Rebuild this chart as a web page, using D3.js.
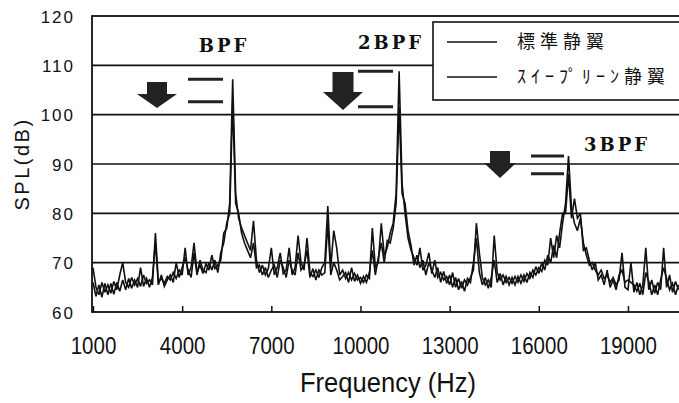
<!DOCTYPE html>
<html>
<head>
<meta charset="utf-8">
<script src="https://cdn.jsdelivr.net/npm/d3@7"></script>
<style>
  html, body { margin: 0; padding: 0; background: #fff; }
  svg { display: block; }
</style>
</head>
<body>
<svg id="chart" width="679" height="403"></svg>
<script>
// ---------------- DATA ----------------
// frequency grid (Hz), one reading every 100 Hz from 1000 to 20700
const freqStart = 1000, freqStep = 100;

// SPL (dB) of the standard stator (標準静翼)
const splStandard = [
  69, 65, 63.5, 66, 64, 65.5, 63.8, 66.2, 64.5, 67.5,        // 1000-1900
  70, 66, 65, 67, 65.5, 66.8, 65.2, 67.5, 65.8, 66.5,        // 2000-2900
  65.5, 76, 66, 66.8, 65.8, 67.2, 66.5, 68, 66.8, 68.5,      // 3000-3900
  67.5, 73, 67.5, 69, 74, 68, 69.5, 67.8, 69.8, 68.5,        // 4000-4900
  71.5, 68.8, 69.5, 70.5, 76, 77, 82, 107.2, 84, 79,         // 5000-5900
  77, 75.5, 74, 72.5, 78.5, 70.5, 68, 69.5, 67.5, 68.8,      // 6000-6900
  73, 67.5, 69, 72, 67.8, 68.5, 73, 67.5, 69, 75.5,          // 7000-7900
  70, 68.5, 75, 68, 67.2, 68.5, 67, 69, 70, 81.5,            // 8000-8900
  69, 76.5, 73, 67.5, 68.5, 66.8, 68, 66.5, 67.8, 66.5,      // 9000-9900
  67, 66, 67.5, 66.8, 77, 69, 70, 78, 71.5, 73,              // 10000-10900
  76, 78, 84, 108.8, 86, 80, 75, 72.5, 71, 69.5,             // 11000-11900
  73, 68.5, 69.5, 72, 67.8, 70.5, 67, 68, 66.5, 67.2,        // 12000-12900
  65.5, 68, 65, 66.8, 64.8, 66.5, 65.5, 67, 68.5, 78,        // 13000-13900
  72, 67, 65.5, 66.5, 65, 75.5, 68, 66.5, 67.5, 66,          // 14000-14900
  67, 65.8, 67.2, 66, 67.5, 66.2, 67.8, 66.8, 68.5, 67.5,    // 15000-15900
  69, 68.2, 70.5, 69.5, 75, 71, 75.5, 73, 78, 82,            // 16000-16900
  91.6, 81, 78, 76.5, 79, 74, 71.5, 69.5, 70, 68.5,          // 17000-17900
  67.5, 68.5, 66.8, 67.5, 66, 67, 65.5, 66.5, 72, 65,        // 18000-18900
  64.5, 70, 64, 66, 63.5, 65.5, 73, 64.5, 66.5, 63.8,        // 19000-19900
  66, 64.5, 73, 65, 67.5, 64, 66.2, 64.5                     // 20000-20700
];

// SPL (dB) of the sweep-lean stator (ｽｲｰﾌﾟﾘｰﾝ静翼)
const splSweepLean = [
  66, 63.2, 65.5, 63, 65.8, 63.5, 65.8, 63.6, 66, 64.2,
  66.5, 64.5, 66.8, 64.8, 66.5, 65, 69, 65.2, 66.8, 65,
  67, 74, 65.5, 67.5, 65.2, 66.5, 67.5, 66, 70, 67,
  69, 71, 68.5, 67, 72, 67.5, 70.5, 68.5, 68, 70,
  68.5, 70.5, 68, 72, 74, 78, 80, 102.6, 82, 80,
  76, 74, 72.5, 71, 74, 69, 69.5, 67.5, 69, 67,
  68.5, 69.5, 67, 70.5, 69, 67, 70.5, 68.5, 67.5, 72,
  68.5, 69.5, 72.5, 67, 68.8, 66.5, 68.5, 67.5, 68, 78,
  67.5, 70, 68.5, 66.5, 67.2, 68, 66, 69, 66.2, 67.5,
  65.8, 67.2, 66, 68, 72.5, 67.5, 71, 74, 70, 74.5,
  74, 77, 82, 101.6, 84, 82, 76.5, 73.5, 69.5, 71.5,
  69, 70.5, 67.5, 70, 68.5, 67, 69, 66, 68.2, 65.8,
  67.5, 65, 67, 64.5, 66.2, 64.2, 66.8, 66, 70, 75,
  68, 65.5, 67, 64.8, 67, 70.5, 66, 67.8, 65.5, 67.2,
  65.5, 67, 65.5, 67.2, 65.8, 67.5, 66, 68, 67, 69.2,
  67.8, 70, 68.5, 71.5, 70, 73.5, 71, 76, 80, 80,
  88, 79, 83, 79, 80, 72.5, 73, 70.5, 68.5, 70,
  66.5, 67.5, 65.5, 68.5, 65, 66.5, 64.5, 67.5, 68.5, 66,
  66.5, 66, 65.5, 64.2, 65.8, 63.5, 68, 66.2, 63.5, 65.5,
  63.5, 66.5, 69, 66.8, 64.5, 65.8, 63.5, 65.5
];

const seriesNames = ["標準静翼", "ｽｲｰﾌﾟﾘｰﾝ静翼"];
const xTicks = [1000, 4000, 7000, 10000, 13000, 16000, 19000];
const yTicks = [60, 70, 80, 90, 100, 110, 120];
const harmonicLabels = ["BPF", "2BPF", "3BPF"];
const harmonicFreqs = [5700, 11300, 17000];

// ---------------- LAYOUT ----------------
const svg = d3.select("#chart");
const plot = { left: 92, top: 16, bottom: 312 };
const x = d3.scaleLinear().domain([1000, 21000]).range([93, 687.4]);
const y = d3.scaleLinear().domain([60, 120]).range([312, 16]);

const freqs = splStandard.map((_, i) => freqStart + i * freqStep);
const seriesData = [splStandard, splSweepLean].map(vals => vals.map((v, i) => ({ f: freqs[i], v })));

svg.append("defs").append("clipPath").attr("id", "clip")
  .append("rect").attr("x", plot.left).attr("y", plot.top)
  .attr("width", 700 - plot.left).attr("height", plot.bottom - plot.top);

// gridlines
svg.append("g").selectAll("line").data(yTicks.filter(t => t > 60 && t < 120)).join("line")
  .attr("x1", plot.left).attr("x2", 700)
  .attr("y1", d => y(d)).attr("y2", d => y(d))
  .attr("stroke", "#111").attr("stroke-width", 1.6);

// plot frame
svg.append("rect").attr("x", plot.left).attr("y", plot.top)
  .attr("width", 700 - plot.left).attr("height", plot.bottom - plot.top)
  .attr("fill", "none").attr("stroke", "#111").attr("stroke-width", 1.8);

// x axis ticks (inward) + labels
const xAxis = d3.axisBottom(x).tickValues(xTicks).tickSizeInner(-6).tickSizeOuter(0).tickPadding(0).tickFormat(d3.format("d"));
const gx = svg.append("g").attr("transform", `translate(0,${plot.bottom})`).call(xAxis);
gx.select(".domain").remove();
gx.selectAll(".tick line").attr("stroke", "#111").attr("stroke-width", 1.5);
gx.selectAll(".tick text")
  .attr("y", 42).attr("dy", 0)
  .attr("fill", "#111")
  .attr("textLength", d => String(d).length * 11.4)
  .attr("lengthAdjust", "spacingAndGlyphs")
  .style("font-family", "'Liberation Sans', Arial, sans-serif")
  .style("font-size", "24px");

// y axis labels
const yAxis = d3.axisLeft(y).tickValues(yTicks).tickSize(0).tickPadding(0).tickFormat(d3.format("d"));
const gy = svg.append("g").attr("transform", `translate(75,0)`).call(yAxis);
gy.select(".domain").remove();
gy.selectAll(".tick text")
  .attr("fill", "#111")
  .attr("dy", "0.36em")
  .style("font-family", "'Liberation Sans', Arial, sans-serif")
  .style("font-size", "17px")
  .style("letter-spacing", "2px");

// axis titles
svg.append("text")
  .attr("x", 388).attr("y", 392).attr("text-anchor", "middle")
  .attr("textLength", 176).attr("lengthAdjust", "spacingAndGlyphs")
  .style("font-family", "'Liberation Sans', Arial, sans-serif")
  .style("font-size", "27px")
  .attr("fill", "#111")
  .text("Frequency (Hz)");

svg.append("text")
  .attr("transform", "translate(22,164) rotate(-90)")
  .attr("text-anchor", "middle").attr("dy", "0.36em")
  .style("font-family", "'Liberation Sans', Arial, sans-serif")
  .style("font-size", "20px").style("letter-spacing", "2.5px")
  .attr("fill", "#111")
  .text("SPL(dB)");

// spectra
const line = d3.line().x(d => x(d.f)).y(d => y(d.v));
svg.append("g").attr("clip-path", "url(#clip)")
  .selectAll("path").data(seriesData).join("path")
  .attr("d", line)
  .attr("fill", "none")
  .attr("stroke", "#111")
  .attr("stroke-width", 1.6)
  .attr("stroke-linejoin", "miter")
  .attr("stroke-miterlimit", 3);

// legend
const lg = svg.append("g");
lg.append("rect").attr("x", 433).attr("y", 22).attr("width", 270).attr("height", 78)
  .attr("fill", "#fff").attr("stroke", "#111").attr("stroke-width", 1.6);
const legendRows = [42, 77];
seriesNames.forEach((name, i) => {
  lg.append("line").attr("x1", 447).attr("x2", 497)
    .attr("y1", legendRows[i]).attr("y2", legendRows[i])
    .attr("stroke", "#111").attr("stroke-width", 1.4);
  lg.append("text").attr("x", 517).attr("y", legendRows[i]).attr("dy", "0.36em")
    .style("font-family", "'Noto Sans CJK JP', sans-serif")
    .style("font-size", "18px").style("letter-spacing", i === 0 ? "5px" : "5px")
    .attr("fill", "#111")
    .text(name);
});

// harmonic annotations: label, arrow, and peak-level dashes
const annLayout = [
  { lx: 224, ly: 46, ax: 157, a0: 82, a1: 94, a2: 108, sw: 10, hw: 20, d0: 188, d1: 223 },
  { lx: 391, ly: 43, ax: 343, a0: 72, a1: 92, a2: 110, sw: 10.5, hw: 20, d0: 358, d1: 393 },
  { lx: 617, ly: 145, ax: 500, a0: 151, a1: 163, a2: 178, sw: 10, hw: 16, d0: 531, d1: 564 }
];
const ann = svg.append("g");
harmonicLabels.forEach((lab, i) => {
  const L = annLayout[i];
  ann.append("text").attr("x", L.lx).attr("y", L.ly).attr("dy", "0.36em")
    .attr("text-anchor", "middle")
    .style("font-family", "'DejaVu Serif', 'Liberation Serif', serif")
    .style("font-weight", "bold").style("font-size", "18px").style("letter-spacing", "3px")
    .attr("fill", "#111").text(lab);
  const p = d3.path();
  p.moveTo(L.ax - L.sw, L.a0); p.lineTo(L.ax + L.sw, L.a0); p.lineTo(L.ax + L.sw, L.a1);
  p.lineTo(L.ax + L.hw, L.a1); p.lineTo(L.ax, L.a2); p.lineTo(L.ax - L.hw, L.a1);
  p.lineTo(L.ax - L.sw, L.a1); p.closePath();
  ann.append("path").attr("d", p.toString()).attr("fill", "#222");
  // dashes at the peak level of each series near this harmonic
  const f0 = harmonicFreqs[i];
  seriesData.forEach(s => {
    const pk = d3.max(s.filter(d => Math.abs(d.f - f0) <= 300), d => d.v);
    ann.append("line").attr("x1", L.d0).attr("x2", L.d1)
      .attr("y1", y(pk)).attr("y2", y(pk))
      .attr("stroke", "#222").attr("stroke-width", 3);
  });
});
</script>
</body>
</html>
